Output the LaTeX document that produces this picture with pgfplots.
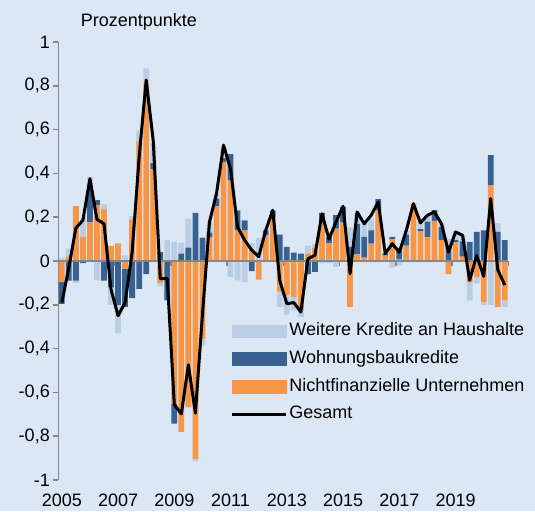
\documentclass[border=0pt]{standalone}
\usepackage{pgfplots}
\pgfplotsset{compat=1.18}
\usepackage{pgfplotstable}
\usepackage{fontspec}
\setmainfont{Liberation Sans}
\definecolor{orangebar}{RGB}{247,150,70}
\definecolor{darkbar}{RGB}{56,97,146}
\definecolor{lightbar}{RGB}{185,205,229}
\definecolor{bgcol}{RGB}{220,231,245}
\definecolor{axgray}{RGB}{134,134,134}

\pgfplotstableread{
x o d l g
0 -0.096 -0.10 0.015 -0.19
1 0.02 -0.09 0.035 -0.03
2 0.25 -0.09 -0.01 0.15
3 0.11 -0.01 0.085 0.186
4 0.178 0.16 0.045 0.376
5 0.255 0.023 -0.088 0.19
6 0.236 -0.09 0.023 0.17
7 0.069 -0.12 -0.08 -0.13
8 0.08 -0.2 -0.13 -0.25
9 -0.035 -0.175 0.026 -0.19
10 0.19 -0.17 0.015 0.04
11 0.55 -0.127 0.045 0.475
12 0.81 -0.06 0.069 0.826
13 0.42 0.027 0.09 0.55
14 -0.1 0.04 -0.015 -0.08
15 0.0 -0.18 0.095 -0.08
16 -0.652 -0.091 0.087 -0.656
17 -0.78 0.034 0.05 -0.698
18 -0.668 0.061 0.133 -0.474
19 -0.904 0.22 -0.011 -0.695
20 -0.355 0.107 -0.03 -0.245
21 0.11 0.02 0.05 0.178
22 0.25 0.035 0.02 0.308
23 0.45 0.02 0.05 0.529
24 0.369 0.119 -0.073 0.42
25 0.14 0.091 -0.088 0.155
26 0.14 0.046 -0.096 0.095
27 0.05 -0.046 0.03 0.05
28 -0.085 0.0 0.105 0.02
29 0.117 0.023 0.0 0.14
30 0.2 0.03 0.0 0.232
31 -0.14 0.12 -0.07 -0.09
32 -0.157 0.064 -0.088 -0.195
33 -0.165 0.038 -0.06 -0.19
34 -0.226 0.034 -0.03 -0.233
35 0.035 -0.06 0.035 0.01
36 0.06 -0.05 0.015 0.026
37 0.18 0.04 -0.01 0.216
38 0.08 0.03 -0.01 0.1
39 0.148 0.061 -0.027 0.178
40 0.178 0.069 0.0 0.25
41 -0.21 0.064 0.09 -0.058
42 0.03 0.14 0.05 0.224
43 0.015 0.095 0.06 0.17
44 0.079 0.061 0.053 0.209
45 0.232 0.05 0.0 0.27
46 0.025 0.01 0.0 0.034
47 0.1 0.01 -0.03 0.079
48 0.01 0.05 -0.02 0.04
49 0.07 0.05 0.02 0.14
50 0.26 0.0 0.0 0.262
51 0.135 0.01 0.03 0.174
52 0.11 0.07 0.025 0.209
53 0.183 0.049 0.0 0.224
54 0.095 0.061 0.015 0.17
55 -0.06 0.07 0.03 0.041
56 0.085 0.01 0.04 0.133
57 0.02 0.07 0.025 0.117
58 -0.096 0.087 -0.084 -0.088
59 -0.073 0.133 -0.03 0.025
60 -0.187 0.14 -0.015 -0.07
61 0.346 0.137 -0.2 0.285
62 -0.21 0.133 0.04 -0.04
63 -0.18 0.095 -0.03 -0.11
}\data

\pgfplotsset{
  common/.style={
    at={(0,0)}, anchor=south west,
    scale only axis, width=450pt, height=438pt,
    xmin=-0.5, xmax=63.5, ymin=-1, ymax=1,
  },
}

\begin{document}
\begin{tikzpicture}
\path[use as bounding box, fill=bgcol] (-58.3pt,-31pt) rectangle (476.7pt,480pt);

% positive stack, axes, labels
\begin{axis}[common,
  axis x line*=bottom, axis y line*=left,
  x axis line style={draw=none},
  y axis line style={draw=axgray, line width=1.5pt, -},
  ytick={-1,-0.8,-0.6,-0.4,-0.2,0,0.2,0.4,0.6,0.8,1},
  tick align=outside, major tick length=5pt,
  ytick style={draw=axgray, line width=1.5pt},
  xtick={0,8,16,24,32,40,48,56},
  xticklabels={2005,2007,2009,2011,2013,2015,2017,2019},
  xtick style={draw=none},
  xticklabel style={yshift=-5.5pt},
  yticklabel style={/pgf/number format/.cd, fixed, precision=1, use comma},
  /pgf/number format/assume math mode=true,
  ticklabel style={font=\fontsize{18}{20}\selectfont},
  ybar stacked, bar width=0.82,
  clip=false,
]
\addplot[fill=orangebar, draw=none] table[x=x, y expr={max(\thisrow{o},0)}] {\data};
\addplot[fill=darkbar, draw=none] table[x=x, y expr={max(\thisrow{d},0)}] {\data};
\addplot[fill=lightbar, draw=none] table[x=x, y expr={max(\thisrow{l},0)}] {\data};
\node[anchor=base west, font=\fontsize{18}{20}\selectfont] at (rel axis cs:0.0422,1.0365) {Prozentpunkte};
\end{axis}

% negative stack and zero line
\begin{axis}[common,
  axis x line=middle, axis y line=none,
  axis line style={-},
  x axis line style={draw=axgray, line width=1.7pt, -},
  xtick={-0.5,7.5,15.5,23.5,31.5,39.5,47.5,55.5,63.5},
  xticklabels={},
  tick align=outside, major tick length=5pt,
  xtick style={draw=axgray, line width=1.5pt},
  ytick=\empty,
  axis on top,
  ybar stacked, bar width=0.82,
]
\addplot[fill=orangebar, draw=none] table[x=x, y expr={min(\thisrow{o},0)}] {\data};
\addplot[fill=darkbar, draw=none] table[x=x, y expr={min(\thisrow{d},0)}] {\data};
\addplot[fill=lightbar, draw=none] table[x=x, y expr={min(\thisrow{l},0)}] {\data};
\end{axis}

% total line and legend
\begin{axis}[common,
  hide axis,
  legend style={at={(rel axis cs:0.383,0.363)}, anchor=north west,
    draw=none, fill=none, inner sep=0pt, row sep=7.7pt,
    font=\fontsize{18}{20}\selectfont,
    nodes={inner sep=1.5pt, text height=13pt, text depth=4pt}},
  legend cell align=left,
]
\addlegendimage{legend image code/.code={\fill[lightbar] (0pt,-6.3pt) rectangle (54pt,6.3pt);}}
\addlegendentry{Weitere Kredite an Haushalte}
\addlegendimage{legend image code/.code={\fill[darkbar] (0pt,-6.3pt) rectangle (54pt,6.3pt);}}
\addlegendentry{Wohnungsbaukredite}
\addlegendimage{legend image code/.code={\fill[orangebar] (0pt,-6.3pt) rectangle (54pt,6.3pt);}}
\addlegendentry{Nichtfinanzielle Unternehmen}
\addplot[black, line width=3pt, line join=round, mark=none,
  legend image code/.code={\draw[black, line width=3pt] (0pt,0pt) -- (54pt,0pt);}]
  table[x=x, y=g] {\data};
\addlegendentry{Gesamt}
\end{axis}
\end{tikzpicture}
\end{document}
